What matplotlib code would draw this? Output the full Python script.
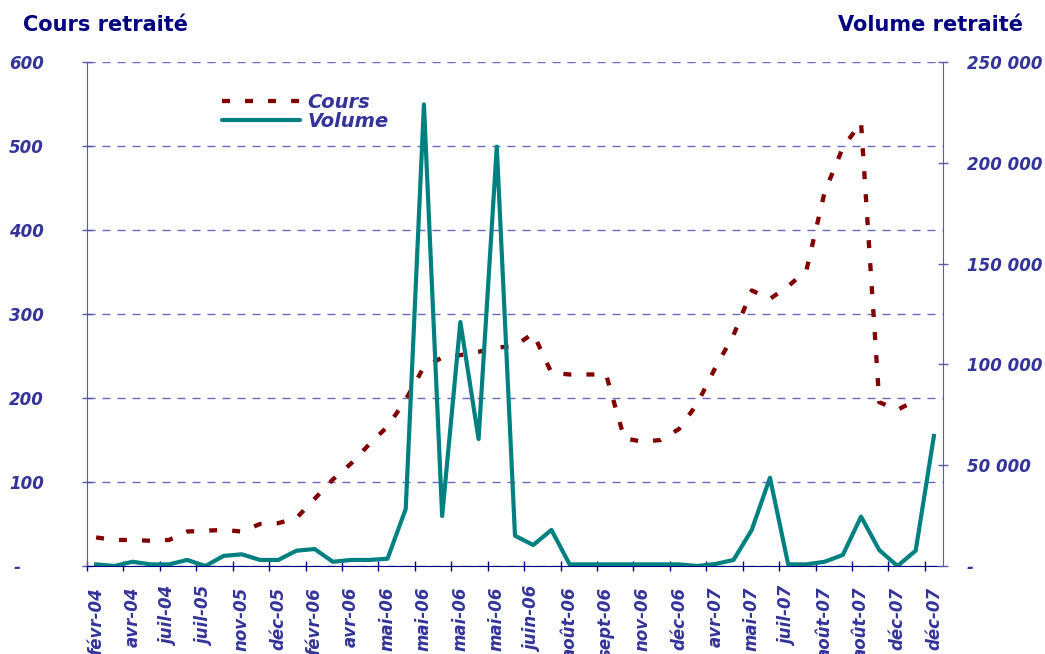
import numpy as np
import matplotlib
matplotlib.use("Agg")
import matplotlib.pyplot as plt
from matplotlib.lines import Line2D

# category labels, one every two monthly points
tick_labels = ["févr-04", "avr-04", "juil-04", "juil-05", "nov-05", "déc-05",
               "févr-06", "avr-06", "mai-06", "mai-06", "mai-06", "mai-06",
               "juin-06", "août-06", "sept-06", "nov-06", "déc-06", "avr-07",
               "mai-07", "juil-07", "août-07", "août-07", "déc-07", "déc-07"]

# cours retraité (left axis), last point missing
cours = [34, 31, 31, 30, 31, 41, 42, 43, 41, 50, 51, 57, 80, 103, 122, 145,
         166, 198, 237, 248, 251, 255, 260, 262, 277, 230, 228, 228, 228, 152,
         148, 150, 163, 193, 236, 275, 328, 318, 333, 352, 445, 498, 528, 195,
         186, 197, np.nan]

# volume retraité (right axis)
volume = [800, 0, 2100, 800, 800, 3000, 0, 5000, 5800, 3000, 3000, 7600, 8400,
          2100, 3000, 3000, 3600, 28300, 229000, 24800, 121000, 63000, 208000,
          15000, 10400, 17900, 800, 800, 800, 800, 800, 800, 800, 0, 1000, 3000,
          17900, 43800, 800, 800, 2100, 5500, 24500, 7900, 0, 7600, 64500]

left_ticks = [0, 100, 200, 300, 400, 500, 600]
right_ticks = [0, 50000, 100000, 150000, 200000, 250000]

NAVY = "#000080"
LABEL = "#333399"
GRID = "#6A6ABE"
AXIS = "#5A5AAA"
COURS_COL = "#800000"
VOL_COL = "#008080"

plt.rcParams["font.family"] = ["DejaVu Sans"]

W, H = 1045, 654
fig = plt.figure(figsize=(W / 100, H / 100), dpi=100)
ax = fig.add_axes([87 / W, 88 / H, 856 / W, 504 / H])
ax2 = ax.twinx()

x = np.arange(len(volume))
ax.plot(x, cours, color=COURS_COL, lw=3.1, linestyle=(0, (1.85, 3.5)))
ax2.plot(x, volume, color=VOL_COL, lw=3)

ax.set_xlim(-0.5, len(volume) - 0.5)
ax.set_ylim(0, 600)
ax2.set_ylim(0, 250000)

tick_font = dict(fontsize=12, fontweight="bold", fontstyle="italic", color=LABEL)

left_lbl = ["-\u2007\u2007" if v == 0 else str(v) for v in left_ticks]
ax.set_yticks(left_ticks, labels=left_lbl, **tick_font)
right_lbl = ["-" if v == 0 else f"{v:,}".replace(",", " ") for v in right_ticks]
ax2.set_yticks(right_ticks, labels=right_lbl, **tick_font)

ax.set_xticks(np.arange(-0.5, len(volume) - 1, 2))
ax.set_xticklabels([])
ax.set_xticks(np.arange(0, len(volume), 2), labels=tick_labels, minor=True,
              rotation=90, va="top", **tick_font)

ax.tick_params(axis="y", direction="inout", length=7.2, width=1, color=AXIS, pad=27.5)
ax2.tick_params(axis="y", direction="inout", length=7.2, width=1, color=AXIS, pad=13.7)
ax.tick_params(axis="x", which="major", direction="inout", length=7.2, width=1, color=NAVY)
ax.tick_params(axis="x", which="minor", length=0, pad=15)

ax.yaxis.grid(True, color=GRID, linestyle=(0, (5.8, 5.0)), lw=1)
ax.set_axisbelow(True)

for s in ("top", "right"):
    ax.spines[s].set_visible(False)
for s in ("top", "left", "bottom"):
    ax2.spines[s].set_visible(False)
ax.spines["left"].set_color(AXIS)
ax2.spines["right"].set_color(AXIS)
ax.spines["bottom"].set_color(NAVY)

fig.text(23 / W, 1 - 31 / H, "Cours retraité", fontsize=15, fontweight="bold",
         color=NAVY, ha="left", va="baseline")
fig.text(1023 / W, 1 - 31 / H, "Volume retraité", fontsize=15, fontweight="bold",
         color=NAVY, ha="right", va="baseline")

handles = [Line2D([], [], color=COURS_COL, lw=3.1, linestyle=(0, (1.85, 3.5))),
           Line2D([], [], color=VOL_COL, lw=3, solid_capstyle="round")]
fig.legend(handles, ["Cours", "Volume"], loc="upper left",
           bbox_to_anchor=(222 / W, 1 - 93 / H), frameon=False, borderpad=0,
           borderaxespad=0, handlelength=4, handletextpad=0.4, labelspacing=0,
           prop=dict(weight="bold", style="italic", size=14), labelcolor=LABEL)

fig.savefig("out.png", dpi=100)
